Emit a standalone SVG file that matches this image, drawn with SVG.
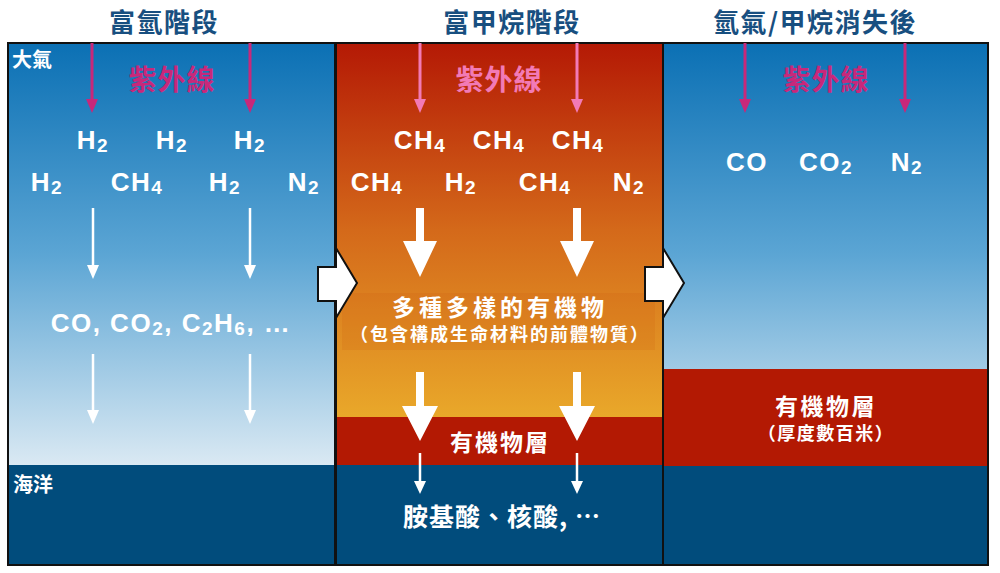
<svg xmlns="http://www.w3.org/2000/svg" width="1000" height="573" viewBox="0 0 1000 573">
<style>
.title{font-family:"Noto Sans CJK TC","Noto Sans CJK SC",sans-serif;font-weight:bold;font-size:26px;fill:#184f80;text-anchor:middle;letter-spacing:1.5px}
.mol{font-family:"Liberation Sans",Arial,sans-serif;font-weight:bold;font-size:26px;fill:#fff;text-anchor:middle;letter-spacing:1.5px}
.sub{font-size:19px}
.cjk{font-family:"Noto Sans CJK TC","Noto Sans CJK SC",sans-serif;font-weight:bold;fill:#fff}
.uv1{font-family:"Noto Sans CJK TC","Noto Sans CJK SC",sans-serif;font-weight:bold;font-size:28px;fill:#c8287a;text-anchor:middle;letter-spacing:1px}
.uv2{font-family:"Noto Sans CJK TC","Noto Sans CJK SC",sans-serif;font-weight:bold;font-size:28px;fill:#f27ab6;text-anchor:middle;letter-spacing:1px}
.pk1{stroke:#c8287a;stroke-width:3}
.pk2{stroke:#f27ab6;stroke-width:3}
.wl{stroke:#fff;stroke-width:2.5}
.border{fill:none;stroke:#111;stroke-width:2}
</style>
<defs>
<linearGradient id="sky1" x1="0" y1="43" x2="0" y2="465" gradientUnits="userSpaceOnUse">
<stop offset="0" stop-color="#0b70b4"/>
<stop offset="0.5" stop-color="#5ba5d4"/>
<stop offset="1" stop-color="#dae9f3"/>
</linearGradient>
<linearGradient id="org" x1="0" y1="43" x2="0" y2="417" gradientUnits="userSpaceOnUse">
<stop offset="0" stop-color="#b41905"/>
<stop offset="0.5" stop-color="#d4691a"/>
<stop offset="1" stop-color="#e9a82a"/>
</linearGradient>
</defs>

<!-- Panel 1 -->
<g id="panel-hydrogen">
<rect x="8" y="43" width="327" height="422" fill="url(#sky1)"/>
<rect x="8" y="465" width="327" height="100" fill="#014c7c"/>
<rect x="8" y="43" width="327" height="522" class="border"/>
<text class="cjk" x="12" y="67" font-size="20">大氣</text>
<text class="cjk" x="13" y="492" font-size="20">海洋</text>
<text class="uv1" x="172" y="90">紫外線</text>
<line class="pk1" x1="92" y1="43" x2="92" y2="101"/>
<polygon points="86,99 98,99 92,113" fill="#c8287a"/>
<line class="pk1" x1="250" y1="43" x2="250" y2="101"/>
<polygon points="244,99 256,99 250,113" fill="#c8287a"/>
<text class="mol" x="93" y="149">H<tspan class="sub" dy="3">2</tspan></text>
<text class="mol" x="172" y="149">H<tspan class="sub" dy="3">2</tspan></text>
<text class="mol" x="250" y="149">H<tspan class="sub" dy="3">2</tspan></text>
<text class="mol" x="47" y="191">H<tspan class="sub" dy="3">2</tspan></text>
<text class="mol" x="137" y="191">CH<tspan class="sub" dy="3">4</tspan></text>
<text class="mol" x="225" y="191">H<tspan class="sub" dy="3">2</tspan></text>
<text class="mol" x="304" y="191">N<tspan class="sub" dy="3">2</tspan></text>
<line class="wl" x1="93" y1="208" x2="93" y2="268"/>
<polygon points="87,265 99,265 93,279" fill="#fff"/>
<line class="wl" x1="250" y1="208" x2="250" y2="268"/>
<polygon points="244,265 256,265 250,279" fill="#fff"/>
<text class="mol" x="171" y="332">CO, CO<tspan class="sub" dy="3">2</tspan><tspan dy="-3">, C</tspan><tspan class="sub" dy="3">2</tspan><tspan dy="-3">H</tspan><tspan class="sub" dy="3">6</tspan><tspan dy="-3">, …</tspan></text>
<line class="wl" x1="93" y1="354" x2="93" y2="413"/>
<polygon points="87,410 99,410 93,424" fill="#fff"/>
<line class="wl" x1="250" y1="354" x2="250" y2="413"/>
<polygon points="244,410 256,410 250,424" fill="#fff"/>
</g>

<!-- Panel 3 -->
<g id="panel-after">
<rect x="663" y="43" width="325" height="326" fill="url(#sky1)"/>
<rect x="663" y="369" width="325" height="97" fill="#b31903"/>
<rect x="663" y="466" width="325" height="99" fill="#014c7c"/>
<rect x="663" y="43" width="325" height="522" class="border"/>
<text class="uv1" x="826" y="90">紫外線</text>
<line class="pk1" x1="745" y1="43" x2="745" y2="101"/>
<polygon points="739,99 751,99 745,113" fill="#c8287a"/>
<line class="pk1" x1="905" y1="43" x2="905" y2="101"/>
<polygon points="899,99 911,99 905,113" fill="#c8287a"/>
<text class="mol" x="747" y="171">CO</text>
<text class="mol" x="826" y="171">CO<tspan class="sub" dy="3">2</tspan></text>
<text class="mol" x="907" y="171">N<tspan class="sub" dy="3">2</tspan></text>
<text class="cjk" x="826" y="415" font-size="23" text-anchor="middle" letter-spacing="2.5">有機物層</text>
<text class="cjk" x="826" y="440" font-size="18" text-anchor="middle" letter-spacing="1.5">（厚度數百米）</text>
</g>

<!-- Panel 2 -->
<g id="panel-methane">
<rect x="336" y="43" width="327" height="374" fill="url(#org)"/>
<rect x="336" y="417" width="327" height="48" fill="#b31903"/>
<rect x="336" y="465" width="327" height="100" fill="#014c7c"/>
<rect x="342" y="293" width="313" height="57" fill="#c24a08" opacity="0.12"/>
<rect x="336" y="43" width="327" height="522" class="border"/>
<text class="uv2" x="499" y="90">紫外線</text>
<line class="pk2" x1="420" y1="43" x2="420" y2="101"/>
<polygon points="414,99 426,99 420,113" fill="#f27ab6"/>
<line class="pk2" x1="577" y1="43" x2="577" y2="101"/>
<polygon points="571,99 583,99 577,113" fill="#f27ab6"/>
<text class="mol" x="420" y="149">CH<tspan class="sub" dy="3">4</tspan></text>
<text class="mol" x="499" y="149">CH<tspan class="sub" dy="3">4</tspan></text>
<text class="mol" x="578" y="149">CH<tspan class="sub" dy="3">4</tspan></text>
<text class="mol" x="377" y="191">CH<tspan class="sub" dy="3">4</tspan></text>
<text class="mol" x="461" y="191">H<tspan class="sub" dy="3">2</tspan></text>
<text class="mol" x="545" y="191">CH<tspan class="sub" dy="3">4</tspan></text>
<text class="mol" x="629" y="191">N<tspan class="sub" dy="3">2</tspan></text>
<polygon points="416,208 424,208 424,241 437,241 420,277 403,241 416,241" fill="#fff"/>
<polygon points="573,208 581,208 581,241 594,241 577,277 560,241 573,241" fill="#fff"/>
<text class="cjk" x="500" y="316" font-size="23" text-anchor="middle" letter-spacing="4">多種多樣的有機物</text>
<text class="cjk" x="500" y="341" font-size="18" text-anchor="middle" letter-spacing="2">（包含構成生命材料的前體物質）</text>
<polygon points="416,372 424,372 424,406 438,406 420,441 402,406 416,406" fill="#fff"/>
<polygon points="573,372 581,372 581,406 595,406 577,441 559,406 573,406" fill="#fff"/>
<text class="cjk" x="500" y="451" font-size="23" text-anchor="middle" letter-spacing="2">有機物層</text>
<line class="wl" x1="420" y1="453" x2="420" y2="484"/>
<polygon points="414,481 426,481 420,494" fill="#fff"/>
<line class="wl" x1="577" y1="453" x2="577" y2="484"/>
<polygon points="571,481 583,481 577,494" fill="#fff"/>
<text class="cjk" x="502" y="526" font-size="25" text-anchor="middle" letter-spacing="1">胺基酸、核酸, …</text>
</g>

<!-- Titles -->
<g id="titles">
<text class="title" x="164" y="32">富氫階段</text>
<text class="title" x="512" y="32">富甲烷階段</text>
<text class="title" x="815" y="32">氫氣/甲烷消失後</text>
</g>

<!-- Connectors -->
<g id="connectors">
<polygon points="318,267 336,267 336,248 357,283 336,318 336,301 318,301" fill="#fff" stroke="#111" stroke-width="2" stroke-linejoin="miter"/>
<polygon points="645,267 663,267 663,248 684,283 663,318 663,301 645,301" fill="#fff" stroke="#111" stroke-width="2" stroke-linejoin="miter"/>
</g>
</svg>
